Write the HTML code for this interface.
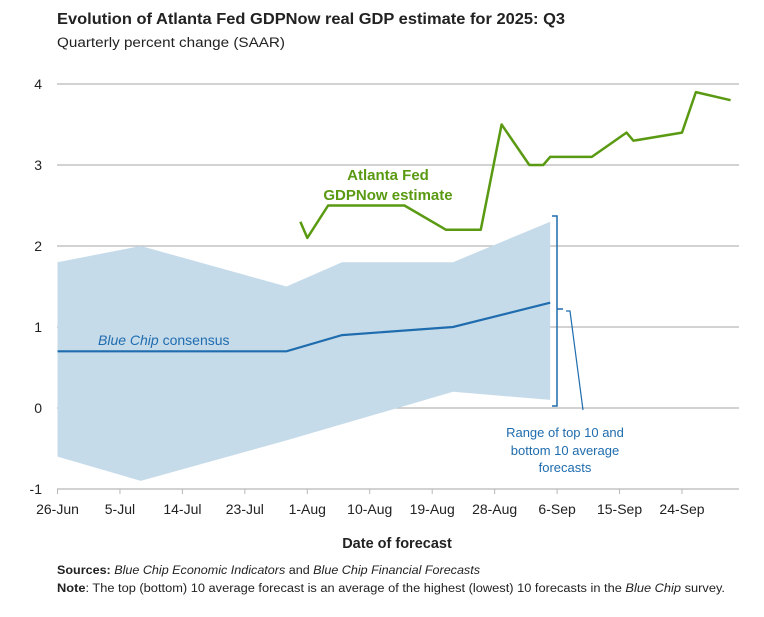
<!DOCTYPE html>
<html><head><meta charset="utf-8"><style>
body{margin:0;background:#fff}
svg{display:block;font-family:"Liberation Sans",sans-serif}
</style></head><body>
<svg id="chart" width="764" height="617" viewBox="0 0 764 617">
<text x="57" y="24" font-size="16" font-weight="bold" fill="#222" textLength="508" lengthAdjust="spacingAndGlyphs">Evolution of Atlanta Fed GDPNow real GDP estimate for 2025: Q3</text>
<text x="57" y="47" font-size="13.5" fill="#222" textLength="228" lengthAdjust="spacingAndGlyphs">Quarterly percent change (SAAR)</text>
<g id="grid"></g><g id="band"></g><g id="lines"></g><g id="axes"></g>
<text x="388" y="180" font-size="15" font-weight="bold" fill="#5a9a12" text-anchor="middle">Atlanta Fed</text>
<text x="388" y="200" font-size="15" font-weight="bold" fill="#5a9a12" text-anchor="middle">GDPNow estimate</text>
<text x="98" y="345" font-size="14" fill="#1f6cae"><tspan font-style="italic">Blue Chip</tspan> consensus</text>
<path d="M552 216 H557 V406 H552 M557 309 H563" fill="none" stroke="#1f6cae" stroke-width="1.5"/>
<path d="M566 311 H570 L583 410" fill="none" stroke="#1f6cae" stroke-width="1.2"/>
<g font-size="13" fill="#1f6cae" text-anchor="middle">
<text x="565" y="437">Range of top 10 and</text><text x="565" y="455">bottom 10 average</text><text x="565" y="472">forecasts</text></g>
<text x="397" y="548" font-size="14.5" font-weight="bold" fill="#222" text-anchor="middle">Date of forecast</text>
<text x="57" y="574" font-size="11.5" fill="#222" textLength="423" lengthAdjust="spacingAndGlyphs"><tspan font-weight="bold">Sources:</tspan> <tspan font-style="italic">Blue Chip Economic Indicators</tspan> and <tspan font-style="italic">Blue Chip Financial Forecasts</tspan></text>
<text x="57" y="592" font-size="11.5" fill="#222" textLength="668" lengthAdjust="spacingAndGlyphs"><tspan font-weight="bold">Note</tspan>: The top (bottom) 10 average forecast is an average of the highest (lowest) 10 forecasts in the <tspan font-style="italic">Blue Chip</tspan> survey.</text>
</svg>
<script>
const yTicks=[-1,0,1,2,3,4];
const xTickLabels=["26-Jun","5-Jul","14-Jul","23-Jul","1-Aug","10-Aug","19-Aug","28-Aug","6-Sep","15-Sep","24-Sep"];
const gdpDays=[35,36,39,50,56,61,64,68,70,71,77,82,83,90,92,97];
const gdpVals=[2.3,2.1,2.5,2.5,2.2,2.2,3.5,3.0,3.0,3.1,3.1,3.4,3.3,3.4,3.9,3.8];
const bcDays=[0,33,41,57,71];
const bcVals=[0.7,0.7,0.9,1.0,1.3];
const topDays=[0,12,33,41,57,71];
const topVals=[1.8,2.0,1.5,1.8,1.8,2.3];
const botDays=[0,12,33,57,71];
const botVals=[-0.6,-0.9,-0.4,0.2,0.1];
const NS="http://www.w3.org/2000/svg";
const X=d=>57.5+d*62.45/9;
const Y=v=>408-v*81;
function mk(t,a,p){const e=document.createElementNS(NS,t);for(const k in a)e.setAttribute(k,a[k]);p.appendChild(e);return e;}
const grid=document.getElementById('grid'),axes=document.getElementById('axes');
yTicks.forEach(v=>{
 if(v>-1){const l=mk('line',{x1:57,x2:739,y1:Y(v),y2:Y(v),stroke:'#b8b8b8','stroke-width':1.2},grid);
 
 }
 const t=mk('text',{x:42,y:Y(v)+5,'font-size':14,fill:'#222','text-anchor':'end'},axes);t.textContent=v;
 
 
});
const ax=mk('line',{x1:57,x2:739,y1:Y(-1),y2:Y(-1),stroke:'#b8b8b8','stroke-width':1.2},axes);


xTickLabels.forEach((s,i)=>{
 const x=X(i*9);
 const tk=mk('line',{x1:x,x2:x,y1:Y(-1),y2:Y(-1)+5,stroke:'#b8b8b8'},axes);
 
 
 const t=mk('text',{x:x,y:514,'font-size':14,fill:'#222','text-anchor':'middle'},axes);t.textContent=s;
 
 
});
let d='M'+topDays.map((x,i)=>X(x)+' '+Y(topVals[i])).join(' L');
for(let i=botDays.length-1;i>=0;i--)d+=' L'+X(botDays[i])+' '+Y(botVals[i]);
const band=mk('path',{d:d+'Z',fill:'#c6dbea'},document.getElementById('band'));


const lines=document.getElementById('lines');
const bc=mk('polyline',{points:bcDays.map((x,i)=>X(x)+','+Y(bcVals[i])).join(' '),fill:'none',stroke:'#1f6cae','stroke-width':2.2},lines);


const gl=mk('polyline',{points:gdpDays.map((x,i)=>X(x)+','+Y(gdpVals[i])).join(' '),fill:'none',stroke:'#5a9a12','stroke-width':2.5,'stroke-linejoin':'round'},lines);


</script>
</body></html>
